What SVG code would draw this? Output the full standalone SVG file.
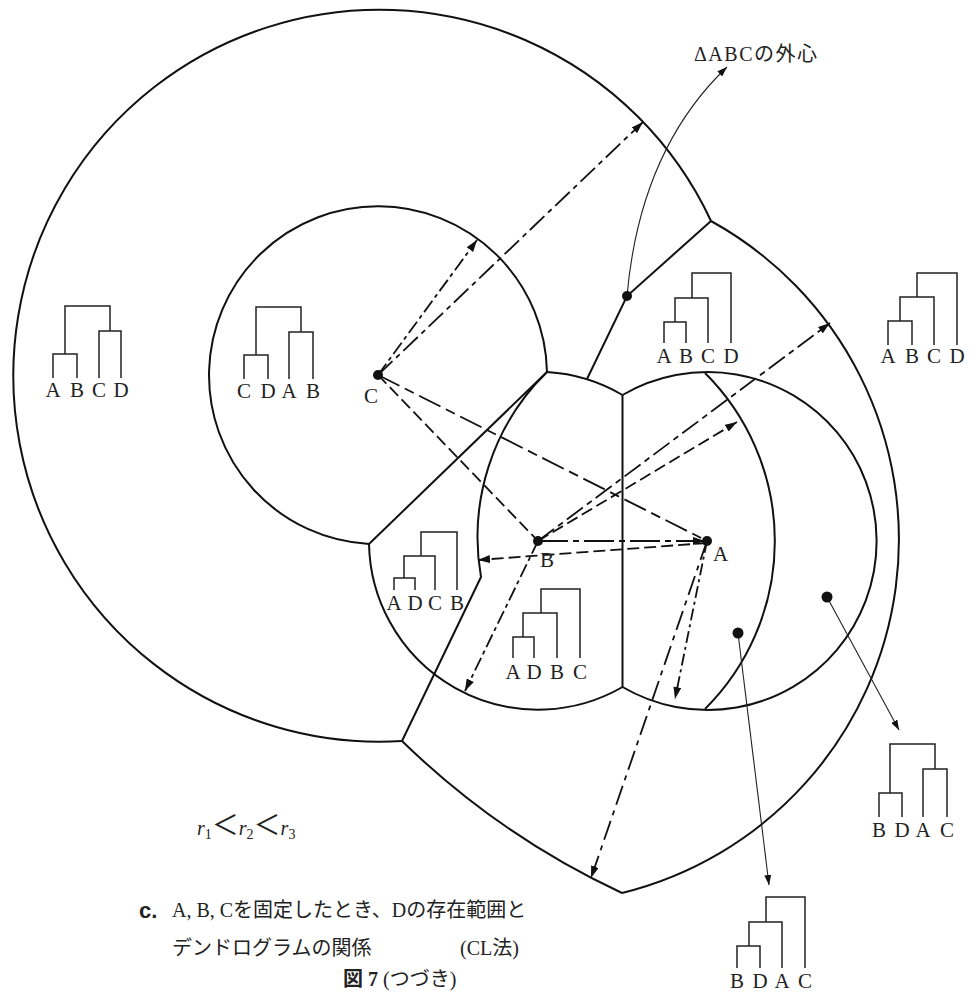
<svg xmlns="http://www.w3.org/2000/svg" width="980" height="993" viewBox="0 0 980 993">
<style>
.b{fill:none;stroke:#111;stroke-width:2}
.d{fill:none;stroke:#222;stroke-width:1.5}
.c{fill:none;stroke:#111;stroke-width:1.8}
.t{fill:none;stroke:#222;stroke-width:1.1}
.lbl{font-family:"Liberation Serif",serif;font-size:21px;fill:#222;text-anchor:middle}
.pt{font-family:"Liberation Serif",serif;font-size:21px;fill:#222}
.jp{font-family:"Liberation Serif","Noto Sans CJK JP",serif;font-size:20px;fill:#222}
.dot{fill:#111}
</style>
<defs>
<marker id="ah" markerWidth="13" markerHeight="8" refX="12" refY="4" orient="auto" markerUnits="userSpaceOnUse">
<path d="M0,0 L12,4 L0,8 Z" fill="#111"/>
</marker>
<marker id="ahs" markerWidth="11" markerHeight="7" refX="10" refY="3.5" orient="auto" markerUnits="userSpaceOnUse">
<path d="M0,0 L10,3.5 L0,7 Z" fill="#111"/>
</marker>
</defs>
<rect width="980" height="993" fill="#fff"/>

<g id="boundaries">
<path class="b" d="M711,221 A366,366 0 1 0 402,741"/>
<path class="b" d="M711,221 A364,364 0 0 1 622,893"/>
<path class="b" d="M402,741 A800,800 0 0 0 622,893"/>
<path class="b" d="M547,372 A169,169 0 1 0 369,544"/>
<path class="b" d="M547,372 A169,169 0 0 1 622.5,395"/>
<path class="b" d="M369,544 A169,169 0 0 0 622.5,687"/>
<path class="b" d="M622.5,395 A169,169 0 1 1 622.5,687"/>
<path class="b" d="M622.5,395 V687"/>
<path class="b" d="M547,372 L369,544"/>
<path class="b" d="M547,372 A231,231 0 0 0 481,577 L402,741"/>
<path class="b" d="M711,221 L627,296 L587,379"/>
<path class="b" d="M705,373 A237,237 0 0 1 705,709"/>
</g>

<g id="connectors">
<path class="c" d="M378,375 L477,240" stroke-dasharray="14 4 4 4" marker-end="url(#ah)"/>
<path class="c" d="M378,375 L643,122" stroke-dasharray="20 5 5 5" marker-end="url(#ah)"/>
<path class="c" d="M378,375 L538,541" stroke-dasharray="12 5"/>
<path class="c" d="M378,375 L707,541" stroke-dasharray="24 6 10 6"/>
<path class="c" d="M538,541 L705,541" stroke-dasharray="30 5 6 5" marker-end="url(#ah)"/>
<path class="c" d="M707,543 L478,560" stroke-dasharray="12 5" marker-end="url(#ah)"/>
<path class="c" d="M538,541 L830,323" stroke-dasharray="20 5 6 5" marker-end="url(#ah)"/>
<path class="c" d="M538,541 L737,422" stroke-dasharray="12 5" marker-end="url(#ah)"/>
<path class="c" d="M538,541 L465,691" stroke-dasharray="14 4 4 4" marker-end="url(#ah)"/>
<path class="c" d="M707,541 L591,878" stroke-dasharray="20 6 5 6" marker-end="url(#ah)"/>
<path class="c" d="M707,541 L675,699" stroke-dasharray="12 4 3 4" marker-end="url(#ah)"/>
<path class="t" d="M627,296 Q640,150 727,67" marker-end="url(#ahs)"/>
<path class="t" d="M827,597 L899,730" marker-end="url(#ahs)"/>
<path class="t" d="M738,633 L769,885" marker-end="url(#ahs)"/>
</g>

<g id="points">
<circle class="dot" cx="378" cy="375" r="5"/>
<circle class="dot" cx="538" cy="541" r="5"/>
<circle class="dot" cx="707" cy="541" r="5"/>
<circle class="dot" cx="627" cy="296" r="5"/>
<circle class="dot" cx="827" cy="597" r="5.5"/>
<circle class="dot" cx="738" cy="633" r="5.5"/>
<text class="pt" x="364" y="403">C</text>
<text class="pt" x="540" y="567">B</text>
<text class="pt" x="713" y="561" font-size="19">A</text>
</g>

<g id="label-circumcenter">
<text class="jp" x="694" y="61" font-size="21" letter-spacing="1.5">ΔABCの外心</text>
</g>

<g id="dendro-left">
<path class="d" d="M53,378 V354 H77 V378 M99,378 V331 H121 V378 M65,354 V306 H110 V331"/>
<text class="lbl" y="397"><tspan x="53">A</tspan><tspan x="77">B</tspan><tspan x="99">C</tspan><tspan x="121">D</tspan></text>
</g>
<g id="dendro-cdab">
<path class="d" d="M244,379 V355 H268 V379 M289,379 V332 H313 V379 M256,355 V307 H301 V332"/>
<text class="lbl" y="398"><tspan x="244">C</tspan><tspan x="268">D</tspan><tspan x="289">A</tspan><tspan x="313">B</tspan></text>
</g>
<g id="dendro-abcd-mid">
<path class="d" d="M664,343 V322 H686 V343 M675,322 V298 H708 V343 M692,298 V273 H731 V343"/>
<text class="lbl" y="363"><tspan x="664">A</tspan><tspan x="686">B</tspan><tspan x="708">C</tspan><tspan x="731">D</tspan></text>
</g>
<g id="dendro-abcd-right">
<path class="d" d="M888,345 V321 H912 V345 M900,321 V297 H934 V345 M917,297 V273 H957 V345"/>
<text class="lbl" y="363"><tspan x="888">A</tspan><tspan x="912">B</tspan><tspan x="934">C</tspan><tspan x="957">D</tspan></text>
</g>
<g id="dendro-adcb">
<path class="d" d="M394,590 V578 H415 V590 M404,578 V556 H435 V590 M421,556 V532 H457 V590"/>
<text class="lbl" y="610"><tspan x="394">A</tspan><tspan x="415">D</tspan><tspan x="435">C</tspan><tspan x="457">B</tspan></text>
</g>
<g id="dendro-adbc">
<path class="d" d="M513,658 V637 H534 V658 M523,637 V613 H557 V658 M541,613 V589 H580 V658"/>
<text class="lbl" y="679"><tspan x="513">A</tspan><tspan x="534">D</tspan><tspan x="557">B</tspan><tspan x="580">C</tspan></text>
</g>
<g id="dendro-bdac-right">
<path class="d" d="M879,817 V793 H902 V817 M923,817 V769 H947 V817 M890,793 V744 H935 V769"/>
<text class="lbl" y="837"><tspan x="879">B</tspan><tspan x="902">D</tspan><tspan x="923">A</tspan><tspan x="947">C</tspan></text>
</g>
<g id="dendro-bdac-bottom">
<path class="d" d="M737,968 V946 H760 V968 M749,946 V922 H782 V968 M766,922 V897 H805 V968"/>
<text class="lbl" y="988"><tspan x="737">B</tspan><tspan x="760">D</tspan><tspan x="782">A</tspan><tspan x="805">C</tspan></text>
</g>

<g id="inequality">
<text class="jp" x="197" y="835" font-size="23"><tspan font-style="italic">r</tspan><tspan font-size="14" dy="4">1</tspan><tspan font-size="27" dy="-4">＜</tspan><tspan font-style="italic">r</tspan><tspan font-size="14" dy="4">2</tspan><tspan font-size="27" dy="-4">＜</tspan><tspan font-style="italic">r</tspan><tspan font-size="14" dy="4">3</tspan></text>
</g>

<g id="caption">
<text x="139" y="918" font-family="Liberation Sans,sans-serif" font-weight="bold" font-size="22" fill="#222">c.</text>
<text class="jp" x="172" y="917" font-size="21">A, B, Cを固定したとき、Dの存在範囲と</text>
<text class="jp" x="172" y="955" font-size="19">デンドログラムの関係</text>
<text class="jp" x="460" y="955" font-size="23">(CL法)</text>
<text class="jp" x="343" y="986" font-size="20"><tspan font-weight="bold">図 7</tspan> (つづき)</text>
</g>
</svg>
